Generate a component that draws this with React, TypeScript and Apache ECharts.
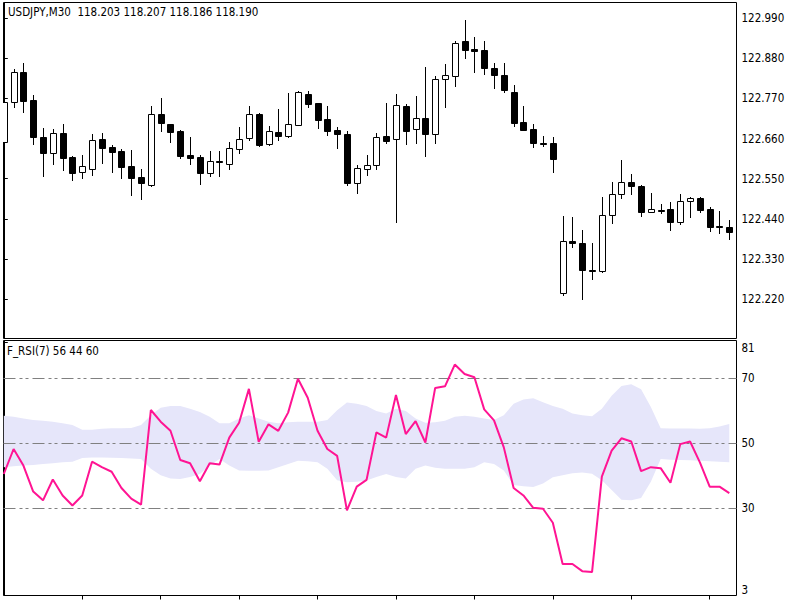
import React, { useEffect, useRef } from 'react';
import * as echarts from 'echarts';

// [open, high, low, close] per 30-minute bar
const ohlc: number[][] = [
  [122.651, 122.763, 122.648, 122.761],
  [122.761, 122.850, 122.745, 122.843],
  [122.843, 122.866, 122.733, 122.764],
  [122.765, 122.779, 122.644, 122.663],
  [122.665, 122.688, 122.558, 122.620],
  [122.620, 122.687, 122.590, 122.674],
  [122.676, 122.699, 122.574, 122.606],
  [122.609, 122.612, 122.546, 122.566],
  [122.568, 122.615, 122.553, 122.585],
  [122.577, 122.672, 122.560, 122.656],
  [122.659, 122.676, 122.592, 122.633],
  [122.636, 122.642, 122.569, 122.623],
  [122.627, 122.630, 122.551, 122.583],
  [122.585, 122.629, 122.505, 122.553],
  [122.555, 122.576, 122.494, 122.537],
  [122.533, 122.749, 122.531, 122.726],
  [122.726, 122.770, 122.681, 122.702],
  [122.699, 122.700, 122.650, 122.677],
  [122.681, 122.683, 122.607, 122.612],
  [122.615, 122.663, 122.590, 122.606],
  [122.609, 122.615, 122.535, 122.566],
  [122.565, 122.626, 122.558, 122.598],
  [122.599, 122.627, 122.558, 122.595],
  [122.590, 122.651, 122.576, 122.635],
  [122.630, 122.692, 122.620, 122.658],
  [122.661, 122.749, 122.656, 122.726],
  [122.727, 122.731, 122.640, 122.642],
  [122.644, 122.695, 122.643, 122.681],
  [122.679, 122.740, 122.656, 122.667],
  [122.667, 122.784, 122.665, 122.699],
  [122.697, 122.790, 122.696, 122.787],
  [122.782, 122.790, 122.747, 122.755],
  [122.756, 122.758, 122.688, 122.711],
  [122.713, 122.750, 122.670, 122.681],
  [122.683, 122.692, 122.633, 122.672],
  [122.672, 122.681, 122.533, 122.537],
  [122.539, 122.587, 122.510, 122.578],
  [122.577, 122.615, 122.560, 122.587],
  [122.587, 122.674, 122.577, 122.665],
  [122.668, 122.756, 122.647, 122.654],
  [122.658, 122.782, 122.432, 122.752],
  [122.749, 122.755, 122.644, 122.681],
  [122.685, 122.776, 122.647, 122.715],
  [122.715, 122.857, 122.613, 122.672],
  [122.672, 122.832, 122.647, 122.823],
  [122.822, 122.863, 122.747, 122.833],
  [122.832, 122.927, 122.804, 122.921],
  [122.927, 122.985, 122.880, 122.902],
  [122.904, 122.937, 122.841, 122.900],
  [122.902, 122.927, 122.837, 122.852],
  [122.852, 122.866, 122.798, 122.834],
  [122.834, 122.866, 122.787, 122.793],
  [122.788, 122.807, 122.694, 122.703],
  [122.706, 122.749, 122.682, 122.683],
  [122.685, 122.699, 122.636, 122.647],
  [122.649, 122.668, 122.640, 122.648],
  [122.649, 122.665, 122.569, 122.603],
  [122.238, 122.448, 122.232, 122.380],
  [122.380, 122.446, 122.362, 122.373],
  [122.375, 122.410, 122.220, 122.300],
  [122.300, 122.375, 122.275, 122.296],
  [122.296, 122.501, 122.294, 122.451],
  [122.451, 122.540, 122.430, 122.507],
  [122.507, 122.601, 122.496, 122.540],
  [122.540, 122.562, 122.507, 122.530],
  [122.531, 122.532, 122.449, 122.460],
  [122.459, 122.510, 122.458, 122.466],
  [122.465, 122.480, 122.455, 122.463],
  [122.467, 122.485, 122.410, 122.432],
  [122.432, 122.508, 122.426, 122.490],
  [122.490, 122.501, 122.446, 122.496],
  [122.498, 122.501, 122.458, 122.464],
  [122.467, 122.473, 122.407, 122.419],
  [122.420, 122.462, 122.400, 122.418],
  [122.417, 122.437, 122.384, 122.405],
];

const rsi = [
  40.4, 48.1, 43, 35, 32.3, 38.7, 33.8, 30.7, 33.8, 44.2, 42.5, 41.1, 36.1, 32.8, 31,
  60.1, 56.5, 53.7, 44.7, 43.7, 38.2, 43.7, 43.3, 51.6, 56.2, 66.6, 50.3, 55.7, 53.7, 59.3,
  69.7, 63.9, 53.7, 48.1, 46, 29.2, 36.5, 38.6, 53.2, 51.6, 64.7, 52.7, 56.7, 50.1, 66.9,
  67.4, 74.1, 71.2, 70.2, 60.3, 56.9, 48.6, 36.1, 33.8, 30, 29.7, 25.4, 12.7, 12.7, 10.5,
  10.2, 39.6, 47.6, 51.4, 50.4, 41.3, 42.5, 42.2, 37.7, 49.6, 50.4, 44, 36.5, 36.5, 34.5,
];

const bandUpper = [
  58.3, 58, 57.5, 57, 56.8, 56.5, 56, 55.5, 54, 54, 54.3, 54.5, 54.5, 54.6, 55.5,
  58.5, 60.8, 61.3, 61.3, 60.5, 59.5, 58, 56, 56, 57.5, 58.5, 57.5, 56.5, 56, 56.3,
  56.5, 56.5, 56.5, 57, 60, 62.4, 62, 61.3, 59.8, 59, 60.5, 59.8, 57.5, 56.2, 56.3,
  56.8, 58, 58.3, 58, 57.5, 57, 58.5, 62, 63.3, 63.7, 62.5, 61.3, 60.5, 59, 58.5,
  58.2, 60.5, 64.5, 67.5, 68, 66.5, 61, 54.5, 54.4, 54.4, 54.4, 54.3, 54.5, 55, 55.8,
];

const bandLower = [
  42.5, 42.8, 43, 43.2, 43.5, 43.7, 44, 44.2, 45.3, 45.5, 45.5, 45.4, 45.3, 45.2, 45,
  42, 40, 39, 38.9, 39.5, 40.4, 43, 45, 43, 41.5, 41.4, 41.4, 41.5, 42.5, 43.5,
  44.5, 44.3, 44, 42, 38.5, 37.9, 38, 38.4, 39.5, 40.4, 39.5, 39, 42, 43, 42.3,
  42, 42, 42, 42.5, 44, 43.5, 41.5, 37, 36.6, 36.4, 37.5, 39.4, 40, 40.6, 40.9,
  40.5, 38.5, 35.5, 32.5, 32.3, 33, 38, 45, 44.8, 44.7, 44.6, 44.5, 44.3, 44.2, 44,
];

const priceTicks = [122.22, 122.33, 122.44, 122.55, 122.66, 122.77, 122.88, 122.99];
const rsiTicks = [3, 30, 50, 70, 81];
const rsiLevels = [30, 50, 70];
const timeTicks = [8, 16, 24, 32, 40, 48, 56, 64, 72];
const symbolTitle = 'USDJPY,M30  118.203 118.207 118.186 118.190';
const rsiTitle = 'F_RSI(7) 56 44 60';

const FONT = "Tahoma, 'DejaVu Sans Condensed', 'DejaVu Sans', sans-serif";
const FS = 11.5;

export default function App() {
  const ref = useRef<HTMLDivElement>(null);

  useEffect(() => {
    if (!ref.current) return;
    const chart = echarts.init(ref.current, null, { renderer: 'svg' });

    const xMin = -0.0306;
    const xMax = 74.734;

    const candleData = ohlc.map((d, i) => [i, d[0], d[1], d[2], d[3]]);
    const rsiData = rsi.map((v, i) => [i, v]);

    const option: any = {
      animation: false,
      backgroundColor: '#ffffff',
      title: [
        {
          text: symbolTitle,
          left: 8,
          top: 6,
          padding: 0,
          textStyle: { fontSize: FS, fontWeight: 'normal', color: '#000', fontFamily: FONT },
        },
        {
          text: rsiTitle,
          left: 7,
          top: 345,
          padding: 0,
          textStyle: { fontSize: FS, fontWeight: 'normal', color: '#000', fontFamily: FONT },
        },
      ],
      grid: [
        {
          left: 3.5, top: 2.5, width: 733, height: 336,
          show: true, borderColor: '#000', borderWidth: 1, backgroundColor: 'transparent',
          outerBoundsMode: 'none', containLabel: false,
        },
        {
          left: 3.5, top: 340.5, width: 733, height: 255,
          show: true, borderColor: '#000', borderWidth: 1, backgroundColor: 'transparent',
          outerBoundsMode: 'none', containLabel: false,
        },
      ],
      xAxis: [
        { type: 'value', gridIndex: 0, min: xMin, max: xMax, show: false },
        {
          type: 'value',
          gridIndex: 1,
          min: xMin,
          max: xMax,
          axisLine: { show: false },
          axisTick: { show: true, customValues: timeTicks, length: 4, inside: false, lineStyle: { color: '#000' } },
          axisLabel: { show: false },
          splitLine: { show: false },
        },
      ],
      yAxis: [
        {
          type: 'value',
          gridIndex: 0,
          position: 'right',
          min: 122.1124,
          max: 123.03244,
          axisLine: { show: true, lineStyle: { color: '#000' } },
          axisTick: { show: true, customValues: priceTicks, length: 4, lineStyle: { color: '#000' } },
          axisLabel: {
            customValues: priceTicks,
            formatter: (v: number) => v.toFixed(3),
            margin: 5,
            color: '#000',
            fontSize: FS,
            fontFamily: FONT,
          },
          splitLine: { show: false },
        },
        {
          type: 'value',
          gridIndex: 1,
          position: 'right',
          min: 3,
          max: 81.5,
          axisLine: { show: true, lineStyle: { color: '#000' } },
          axisTick: { show: true, customValues: rsiTicks, length: 4, lineStyle: { color: '#000' } },
          axisLabel: {
            customValues: rsiTicks,
            formatter: (v: number) => (v === 81 ? '\n81' : v === 3 ? '3\n' : String(v)),
            lineHeight: 12,
            margin: 5,
            color: '#000',
            fontSize: FS,
            fontFamily: FONT,
          },
          splitLine: { show: false },
        },
      ],
      series: [
        {
          type: 'custom',
          name: 'candles',
          xAxisIndex: 0,
          yAxisIndex: 0,
          clip: true,
          data: candleData,
          encode: { x: 0, y: [1, 2, 3, 4] },
          renderItem: (params: any, api: any) => {
            const x = api.value(0);
            const o = api.value(1);
            const h = api.value(2);
            const l = api.value(3);
            const c = api.value(4);
            const pH = api.coord([x, h]);
            const pL = api.coord([x, l]);
            const pO = api.coord([x, o]);
            const pC = api.coord([x, c]);
            const cx = Math.round(pH[0]);
            const top = Math.round(Math.min(pO[1], pC[1]));
            const bot = Math.round(Math.max(pO[1], pC[1]));
            const bull = c > o;
            return {
              type: 'group',
              children: [
                {
                  type: 'line',
                  shape: { x1: cx + 0.5, y1: Math.round(pH[1]), x2: cx + 0.5, y2: Math.round(pL[1]) + 1 },
                  style: { stroke: '#000', lineWidth: 1 },
                },
                {
                  type: 'rect',
                  shape: { x: cx - 2.5, y: top + 0.5, width: 6, height: Math.max(1, bot - top) },
                  style: { fill: bull ? '#ffffff' : '#000000', stroke: '#000', lineWidth: 1 },
                },
              ],
            };
          },
          z: 2,
        },
        {
          type: 'custom',
          name: 'band',
          xAxisIndex: 1,
          yAxisIndex: 1,
          clip: true,
          data: [[0, bandUpper[0]]],
          encode: { x: 0, y: 1 },
          renderItem: (params: any, api: any) => {
            const up = bandUpper.map((v, i) => api.coord([i, v]));
            const lo = bandLower.map((v, i) => api.coord([i, v])).reverse();
            return {
              type: 'polygon',
              shape: { points: up.concat(lo) },
              style: { fill: '#E6E6FA', stroke: 'none' },
            };
          },
          z: 1,
        },
        {
          type: 'line',
          name: 'F_RSI',
          xAxisIndex: 1,
          yAxisIndex: 1,
          data: rsiData,
          showSymbol: false,
          symbol: 'none',
          lineStyle: { color: '#FF1493', width: 2 },
          z: 3,
          markLine: {
            silent: true,
            symbol: 'none',
            z: 2,
            label: { show: false },
            lineStyle: { color: '#808080', width: 1, type: [12, 4, 3, 3, 3, 4] },
            data: rsiLevels.map((v) => ({ yAxis: v })),
          },
        },
      ],
    };
    chart.setOption(option);
    return () => chart.dispose();
  }, []);

  return (
    <div
      ref={ref}
      style={{ position: 'fixed', left: 0, top: 0, width: 800, height: 600, background: '#fff' }}
    />
  );
}
